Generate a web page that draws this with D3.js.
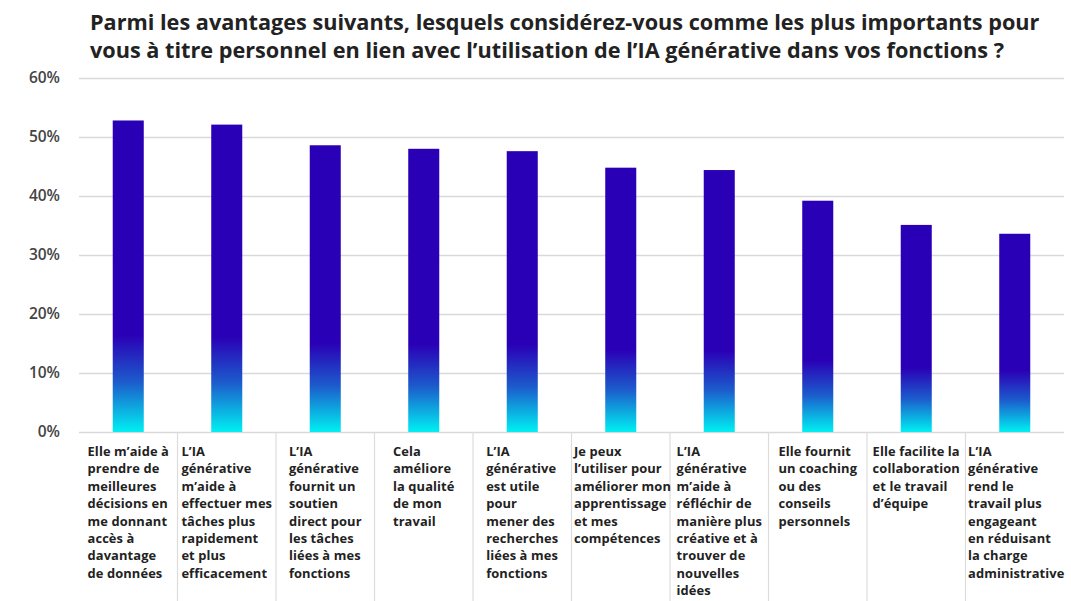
<!DOCTYPE html>
<html><head><meta charset="utf-8">
<script src="https://cdn.jsdelivr.net/npm/d3@7"></script>
<style>
body{margin:0;background:#fff;}
svg{display:block;}
</style>
</head><body>
<svg id="chart" width="1071" height="601"></svg>
<script>
const titleLines = [
  "Parmi les avantages suivants, lesquels considérez-vous comme les plus importants pour",
  "vous à titre personnel en lien avec l’utilisation de l’IA générative dans vos fonctions ?"
];
const categories = [
  "Elle m’aide à\nprendre de\nmeilleures\ndécisions en\nme donnant\naccès à\ndavantage\nde données",
  "L’IA\ngénérative\nm’aide à\neffectuer mes\ntâches plus\nrapidement\net plus\nefficacement",
  "L’IA\ngénérative\nfournit un\nsoutien\ndirect pour\nles tâches\nliées à mes\nfonctions",
  "Cela\naméliore\nla qualité\nde mon\ntravail",
  "L’IA\ngénérative\nest utile\npour\nmener des\nrecherches\nliées à mes\nfonctions",
  "Je peux\nl’utiliser pour\naméliorer mon\napprentissage\net mes\ncompétences",
  "L’IA\ngénérative\nm’aide à\nréfléchir de\nmanière plus\ncréative et à\ntrouver de\nnouvelles\nidées",
  "Elle fournit\nun coaching\nou des\nconseils\npersonnels",
  "Elle facilite la\ncollaboration\net le travail\nd’équipe",
  "L’IA\ngénérative\nrend le\ntravail plus\nengageant\nen réduisant\nla charge\nadministrative"
];
const values = [0.528, 0.521, 0.486, 0.480, 0.476, 0.448, 0.444, 0.392, 0.351, 0.336];
const yTicks = [0, 0.1, 0.2, 0.3, 0.4, 0.5, 0.6];

const svg = d3.select("#chart");
const m = {left: 79, right: 1064, top: 78, bottom: 432};

const x = d3.scaleBand().domain(d3.range(categories.length))
  .range([m.left, m.right]).paddingInner(0.685).paddingOuter(0.3425);
const y = d3.scaleLinear().domain([0, 0.6]).range([m.bottom, m.top]);

// gradient
const defs = svg.append("defs");
const grad = defs.append("linearGradient").attr("id", "barGrad")
  .attr("x1", 0).attr("y1", 0).attr("x2", 0).attr("y2", 1);
grad.append("stop").attr("offset", "0%").attr("stop-color", "#2a00b6");
grad.append("stop").attr("offset", "69%").attr("stop-color", "#2a00b6");
grad.append("stop").attr("offset", "84%").attr("stop-color", "#1c5ccc");
grad.append("stop").attr("offset", "100%").attr("stop-color", "#00f0f2");

// title
const title = svg.append("g").attr("font-family", "'Open Sans', sans-serif")
  .attr("font-weight", 700).attr("fill", "#222");
const tnodes = titleLines.map((t, i) =>
  title.append("text").attr("x", 90).attr("y", 30 + i * 28)
    .attr("font-size", 20).text(t));
const w0 = tnodes[0].node().getComputedTextLength();
const fs = 20 * 950 / w0;
tnodes.forEach(n => n.attr("font-size", fs));

// grid + y axis
const yAxis = d3.axisLeft(y).tickValues(yTicks)
  .tickFormat(d3.format(".0%")).tickSize(-(m.right - m.left)).tickPadding(19);
const gy = svg.append("g").attr("transform", `translate(${m.left},0)`).call(yAxis);
gy.select(".domain").remove();
gy.selectAll(".tick line").attr("stroke", "#d9d9d9").attr("stroke-width", 1.5);
gy.selectAll(".tick text").attr("font-family", "'Open Sans', sans-serif")
  .attr("font-size", 15.5).attr("font-weight", 600).attr("fill", "#444");

// bars
svg.append("g").selectAll("rect").data(values).join("rect")
  .attr("x", (d, i) => x(i)).attr("width", x.bandwidth())
  .attr("y", d => y(d)).attr("height", d => y(0) - y(d))
  .attr("fill", "url(#barGrad)");

// category separators
const step = x.step();
svg.append("g").selectAll("line").data(d3.range(1, categories.length)).join("line")
  .attr("x1", i => x(i) - x.paddingInner() * step / 2)
  .attr("x2", i => x(i) - x.paddingInner() * step / 2)
  .attr("y1", m.bottom).attr("y2", 601)
  .attr("stroke", "#dcdcdc").attr("stroke-width", 1.2);

// category labels: left-aligned block centred in its band
const lab = svg.append("g").attr("font-family", "'Open Sans', sans-serif")
  .attr("font-size", 12.9).attr("font-weight", 700).attr("fill", "#222")
  .attr("letter-spacing", 0.1);
categories.forEach((c, i) => {
  const cx = x(i) + x.bandwidth() / 2;
  const t = lab.append("text").attr("y", 456);
  const spans = c.split("\n").map((line, j) =>
    t.append("tspan").attr("dy", j === 0 ? 0 : 17.4).text(line));
  const maxW = d3.max(spans, s => s.node().getComputedTextLength());
  const x0 = Math.max(cx - step / 2 + 2.5, cx - maxW / 2);
  spans.forEach(s => s.attr("x", x0));
});
</script>
</body></html>
